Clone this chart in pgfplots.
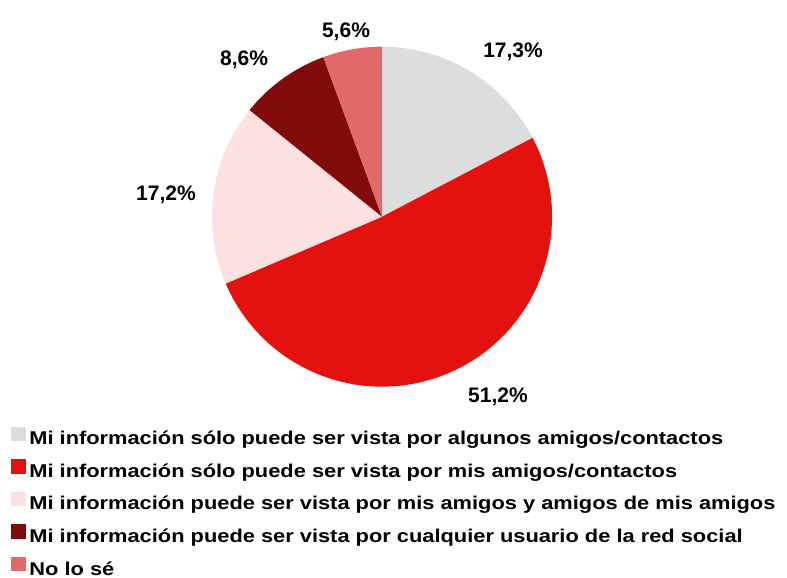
\documentclass[border=0pt]{standalone}
\usepackage{fontspec}
\usepackage{pgfplots}
\usepackage{pgfplotstable}
\pgfplotsset{compat=1.18}

\newfontfamily\pctfamily{Liberation Sans}
\newfontfamily\legfamily[FakeStretch=1.18]{Liberation Sans}
\newcommand\pctfont{\pctfamily\bfseries\fontsize{21bp}{25bp}\selectfont}
\newcommand\legfont{\legfamily\bfseries\fontsize{18.5bp}{22bp}\selectfont}

\definecolor{cA}{HTML}{DDDDDD}
\definecolor{cB}{HTML}{E3120F}
\definecolor{cC}{HTML}{FDE1E1}
\definecolor{cD}{HTML}{7F0B0B}
\definecolor{cE}{HTML}{E16969}

% share, colour, label angle, label radius (px)
\pgfplotstableread{
pct  col  la     lr
17.3 cA   51.8   211.9
51.2 cB   -57.0  212.9
17.2 cC   173.8  217.3
8.6  cD   131.0  210.2
5.6  cE   100.9  190.4
}\piedata

\def\cx{382}
\def\cy{361.3}
\def\rad{170}

\begin{document}
\begin{tikzpicture}
\begin{axis}[
  scale only axis,
  width=787bp, height=578bp,
  xmin=0, xmax=787, ymin=0, ymax=578,
  hide axis,
  clip=false,
  /pgf/number format/assume math mode=true,
  legend cell align=left,
  legend style={
    at={(axis cs:11,151.3)}, anchor=north west,
    draw=none, fill=none, inner sep=0pt, outer sep=0pt,
    row sep=14.4bp,
    nodes={inner sep=0pt, text height=13.3bp, text depth=0pt, font=\legfont},
    /tikz/every odd column/.append style={column sep=4bp},
  },
]
\path (axis cs:0,0) rectangle (axis cs:787,578);

% total of the shares, to close the circle
\def\total{0}
\pgfplotsforeachungrouped \i in {0,...,4}{%
  \pgfplotstablegetelem{\i}{pct}\of\piedata
  \pgfmathsetmacro\total{\total+\pgfplotsretval}%
}

\def\angA{90}
\pgfplotsforeachungrouped \i in {0,...,4}{%
  \pgfplotstablegetelem{\i}{pct}\of\piedata \let\p\pgfplotsretval
  \pgfplotstablegetelem{\i}{col}\of\piedata \let\c\pgfplotsretval
  \pgfplotstablegetelem{\i}{la}\of\piedata \let\la\pgfplotsretval
  \pgfplotstablegetelem{\i}{lr}\of\piedata \let\lr\pgfplotsretval
  \pgfmathsetmacro\angB{\angA-\p/\total*360}%
  \edef\cmd{%
    \noexpand\fill[\c] (axis cs:\cx,\cy) --
      (axis cs:{\cx+\rad*cos(\angA)},{\cy+\rad*sin(\angA)})
      arc[start angle=\angA, end angle=\angB, radius=\rad bp] -- cycle;
    \noexpand\node[anchor=base, yshift=-7.5bp, inner sep=0pt, font=\noexpand\pctfont]
      at (axis cs:{\cx+\lr*cos(\la)},{\cy+\lr*sin(\la)})
      {\noexpand\pgfmathprintnumber[fixed, fixed zerofill, precision=1, use comma]{\p}\noexpand\%};
  }%
  \cmd
  \global\let\angA\angB
}

\addlegendimage{legend image code/.code={\fill[cA] (0bp,-2bp) rectangle (14bp,11.3bp);}}
\addlegendentry{Mi información sólo puede ser vista por algunos amigos/contactos}
\addlegendimage{legend image code/.code={\fill[cB] (0bp,-2bp) rectangle (14bp,11.3bp);}}
\addlegendentry{Mi información sólo puede ser vista por mis amigos/contactos}
\addlegendimage{legend image code/.code={\fill[cC] (0bp,-2bp) rectangle (14bp,11.3bp);}}
\addlegendentry{Mi información puede ser vista por mis amigos y amigos de mis amigos}
\addlegendimage{legend image code/.code={\fill[cD] (0bp,-2bp) rectangle (14bp,11.3bp);}}
\addlegendentry{Mi información puede ser vista por cualquier usuario de la red social}
\addlegendimage{legend image code/.code={\fill[cE] (0bp,-2bp) rectangle (14bp,11.3bp);}}
\addlegendentry{No lo sé}
\end{axis}
\end{tikzpicture}
\end{document}
